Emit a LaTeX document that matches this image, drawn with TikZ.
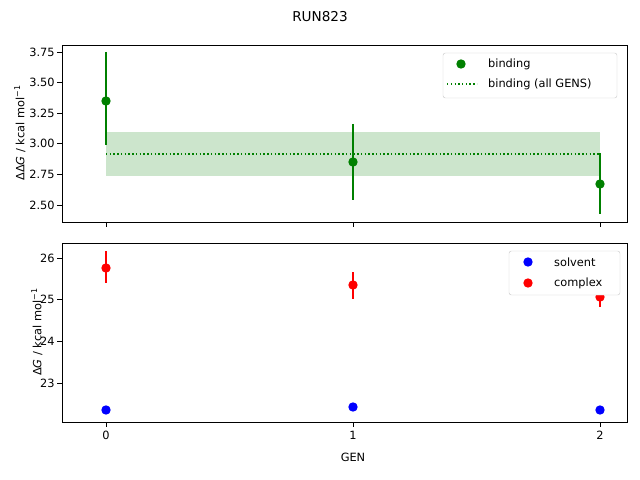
\documentclass[tikz,border=0pt]{standalone}
\usepackage{fontspec}
\setmainfont{DejaVu Sans}
\definecolor{mgreen}{RGB}{0,128,0}
\newcommand{\ylab}[1]{#1\textit{G} / kcal mol\textsuperscript{−1}}
\begin{document}
\begin{tikzpicture}[x={(0.03cm,0)}, y={(0,-0.03cm)}, font=\fontsize{9.7}{12}\selectfont,
    tick/.style={line width=0.7pt},
    ticklabel/.style={inner sep=1pt},
    dot/.style={circle, inner sep=0pt, minimum size=8pt},
    errbar/.style={line width=1.3pt},
    meanline/.style={mgreen, line width=1.2pt, dash pattern=on 1.2pt off 2pt}]
    \useasboundingbox (0,0) rectangle (640,480);
    % title
    \node[font=\fontsize{11.6}{14}\selectfont] (title) at (320,17) {RUN823};
    % top axes
    \fill[mgreen!20] (106,132) rectangle (600,176);
    \draw[meanline] (106,154) -- (600,154);
    \foreach \x/\lo/\hi/\m in {106/52/145/101, 353/124/200/162, 600/153/214/184}{
        \draw[mgreen, errbar] (\x,\lo) -- (\x,\hi);
        \node[dot, fill=mgreen] at (\x,\m) {};
    }
    \draw[line width=0.7pt] (62,45) rectangle (627,222);
    \foreach \v/\py in {3.75/52, 3.50/82.6, 3.25/113.2, 3.00/143.8, 2.75/174.4, 2.50/205}{
        \draw[tick] (62,\py) -- (57,\py);
        \node[ticklabel, anchor=east] at (56,\py) {\v};
    }
    \foreach \x in {106,353,600} \draw[tick] (\x,222) -- (\x,227);
    \node[rotate=90] (ylabtop) at (20,133) {\ylab{ΔΔ}};
    % top legend
    \draw[black!20, fill=white, rounded corners=2pt] (443,53) rectangle (617,98);
    \node[dot, fill=mgreen] (legbind) at (461,64) {};
    \node[anchor=west] at (484,64) {binding};
    \draw[meanline] (447,84) -- (477,84);
    \node[anchor=west] at (484,84) {binding (all GENS)};
    % bottom axes
    \foreach \x/\lo/\hi/\m in {106/251/283/268, 353/272/299/285, 600/288/307/297}{
        \draw[red, errbar] (\x,\lo) -- (\x,\hi);
        \node[dot, fill=red] at (\x,\m) {};
    }
    \foreach \x/\m in {106/410, 353/407, 600/410}
        \node[dot, fill=blue] at (\x,\m) {};
    \draw[line width=0.7pt] (62,243) rectangle (627,422);
    \foreach \v/\py in {26/258, 25/299.7, 24/341.3, 23/383}{
        \draw[tick] (62,\py) -- (57,\py);
        \node[ticklabel, anchor=east] at (56,\py) {\v};
    }
    \foreach \x/\v in {106/0, 353/1, 600/2}{
        \draw[tick] (\x,422) -- (\x,427);
        \node[ticklabel, anchor=north] at (\x,430) {\v};
    }
    \node[rotate=90] (ylabbot) at (37,332) {\ylab{Δ}};
    \node (xlab) at (353,457) {GEN};
    % bottom legend
    \draw[black!20, fill=white, rounded corners=2pt] (509,251) rectangle (620,295);
    \node[dot, fill=blue] (legsolv) at (528,262) {};
    \node[anchor=west] at (550,262) {solvent};
    \node[dot, fill=red] (legcomp) at (528,283) {};
    \node[anchor=west] at (550,283) {complex};
\end{tikzpicture}
\end{document}
